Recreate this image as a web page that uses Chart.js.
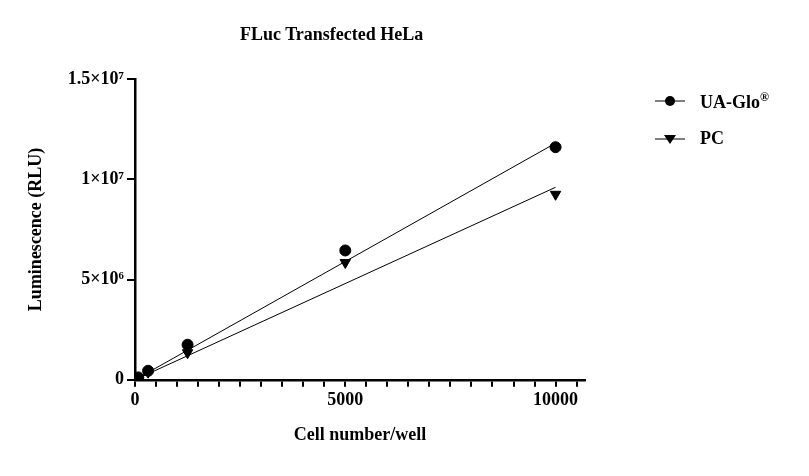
<!DOCTYPE html>
<html><head><meta charset="utf-8">
<script src="https://cdn.jsdelivr.net/npm/chart.js@4"></script>
<style>
body{margin:0;background:#fff;}
#wrap{position:relative;width:809px;height:476px;}
.lg{position:absolute;font:bold 18px "Liberation Serif";color:#000;}
</style></head><body>
<div id="wrap"><canvas id="c" width="809" height="476"></canvas>
<div class="lg" style="left:240px;top:24px">FLuc Transfected HeLa</div>
<div class="lg" style="left:700px;top:90px">UA-Glo<sup style="font-size:12px">®</sup></div>
<div class="lg" style="left:700px;top:128px">PC</div>
</div>
<script>
const cells = [0, 20, 78, 312, 1250, 5000, 10000];
const uaGlo = [0, 30000, 120000, 450000, 1750000, 6450000, 11600000];
const pc = [0, 25000, 100000, 380000, 1350000, 5850000, 9250000];
const fitX = [0, 10000];
const fitUA = [0, 11800000];
const fitPC = [0, 9600000];
const yTicks = {0:'0', 5000000:'5×10⁶', 10000000:'1×10⁷', 15000000:'1.5×10⁷'};
const xLabels = [0, 5000, 10000];
const pts = (xs, ys) => xs.map((x, i) => ({x, y: ys[i]}));
const font = {family: 'Liberation Serif', weight: 'bold', size: 18};
const legendPlugin = {
  id: 'lgm',
  afterDraw(ch) {
    const c = ch.ctx; c.save(); c.strokeStyle = '#000'; c.fillStyle = '#000'; c.lineWidth = 1;
    c.beginPath(); c.moveTo(655, 101); c.lineTo(685, 101); c.moveTo(655, 139); c.lineTo(685, 139); c.stroke();
    c.beginPath(); c.arc(670, 101, 5, 0, Math.PI * 2); c.fill();
    c.beginPath(); c.moveTo(664, 135); c.lineTo(676, 135); c.lineTo(670, 144); c.closePath(); c.fill();
    c.restore();
  }
};
new Chart(document.getElementById('c'), {
  type: 'scatter',
  data: {datasets: [
    {data: pts(cells, uaGlo), pointStyle: 'circle', pointRadius: 5.5, backgroundColor: '#000', borderColor: '#000', showLine: false},
    {data: pts(cells, pc), pointStyle: 'triangle', rotation: 180, pointRadius: 6, backgroundColor: '#000', borderColor: '#000', showLine: false},
    {data: pts(fitX, fitUA), showLine: true, pointRadius: 0, borderColor: '#000', borderWidth: 1},
    {data: pts(fitX, fitPC), showLine: true, pointRadius: 0, borderColor: '#000', borderWidth: 1}
  ]},
  options: {
    responsive: false, animation: false,
    layout: {padding: {left: 22, right: 224, top: 79, bottom: 26}},
    plugins: {legend: {display: false}, tooltip: {enabled: false}},
    scales: {
      x: {type: 'linear', min: 0, max: 10700,
        afterBuildTicks: s => { const t = []; for (let v = 0; v <= 10500; v += 500) t.push({value: v}); s.ticks = t; },
        ticks: {autoSkip: false, maxRotation: 0, color: '#000', font, callback: v => xLabels.includes(v) ? String(v) : ''},
        grid: {display: true, drawOnChartArea: false, drawTicks: true, tickLength: 7, tickColor: '#000', lineWidth: 2},
        border: {color: '#000', width: 2.5},
        title: {display: true, text: 'Cell number/well', color: '#000', font, padding: {top: 10}}},
      y: {type: 'linear', min: 0, max: 15000000,
        afterBuildTicks: s => { s.ticks = Object.keys(yTicks).map(v => ({value: +v})); },
        afterFit: s => { s.width = 113; },
        ticks: {color: '#000', font, callback: v => yTicks[v]},
        grid: {display: true, drawOnChartArea: false, drawTicks: true, tickLength: 8, tickColor: '#000', lineWidth: 2},
        border: {color: '#000', width: 2.5},
        title: {display: true, text: 'Luminescence (RLU)', color: '#000', font, padding: {bottom: 6}}}
    }
  },
  plugins: [legendPlugin]
});
</script></body></html>
